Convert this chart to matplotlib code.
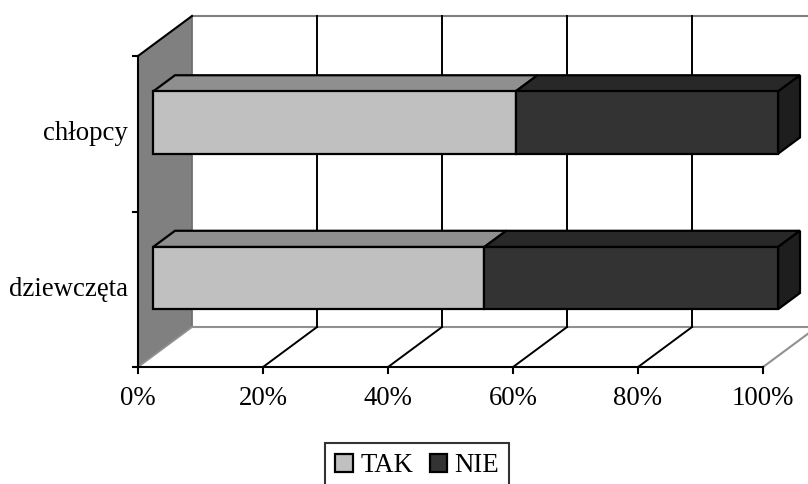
import numpy as np
import matplotlib
matplotlib.use('Agg')
import matplotlib.pyplot as plt
from matplotlib.patches import Polygon, Patch

categories = ['dziewczęta', 'chłopcy']
series_names = ['TAK', 'NIE']
tak = [53, 58]
nie = [47, 42]
x_ticks = [0, 20, 40, 60, 80, 100]
x_tick_labels = ['0%', '20%', '40%', '60%', '80%', '100%']

front_colors = ['#c0c0c0', '#333333']
top_colors = ['#8f8f8f', '#282828']
side_color = '#1e1e1e'

plt.rcParams['font.family'] = ['Liberation Serif', 'DejaVu Serif']
fs = 19.3

fig = plt.figure(figsize=(8.08, 4.84), dpi=100)
ax = fig.add_axes([0, 0, 1, 1])
ax.set_xlim(-22.08, 107.2)
ax.set_ylim(-0.752, 2.360)
ax.axis('off')

# depth offset of the fake 3d box (in data units)
dx, dy = 8.64, 0.2572
f_front, f_back = 0.28, 0.685
h = 0.2
ncat = len(categories)

# left wall
ax.add_patch(Polygon([(0, 0), (0, ncat), (dx, ncat + dy), (dx, dy)],
                     closed=True, fc='#808080', ec='none', zorder=1))
ax.plot([dx, dx], [dy, ncat + dy], color='#707070', lw=1.3, zorder=2)
ax.plot([0, dx], [0, dy], color='#909090', lw=1.3, zorder=2)
ax.plot([0, dx], [ncat, ncat + dy], color='black', lw=1.5, zorder=3)
ax.plot([0, 0], [0, ncat], color='black', lw=1.5, zorder=3)

# back wall top + floor edges
ax.plot([dx, 100 + dx + 5], [ncat + dy, ncat + dy], color='#808080', lw=1.5, zorder=2)
ax.plot([dx, 100 + dx], [dy, dy], color='#909090', lw=1.5, zorder=2)
ax.plot([100, 100 + dx], [0, dy], color='#909090', lw=1.5, zorder=2)
ax.plot([0, 100], [0, 0], color='black', lw=1.5, zorder=3)

# gridlines
for t in x_ticks[1:-1]:
    ax.plot([t + dx, t + dx], [dy, ncat + dy], color='black', lw=1.4, zorder=2)
    ax.plot([t, t + dx], [0, dy], color='black', lw=1.4, zorder=2)

# ticks
for t in x_ticks:
    ax.plot([t, t], [0, -0.04], color='black', lw=1.5, zorder=3)
for k in range(ncat + 1):
    ax.plot([0, -0.8], [k, k], color='black', lw=1.5, zorder=3)

# bars
for i, cat in enumerate(categories):
    c = i + 0.5
    left = 0
    segs = [tak[i], nie[i]]
    for j, v in enumerate(segs):
        a, b = left, left + v
        fx, fy = f_front * dx, f_front * dy
        bx, by = f_back * dx, f_back * dy
        front = [(a + fx, c - h + fy), (b + fx, c - h + fy), (b + fx, c + h + fy), (a + fx, c + h + fy)]
        top = [(a + fx, c + h + fy), (b + fx, c + h + fy), (b + bx, c + h + by), (a + bx, c + h + by)]
        ax.add_patch(Polygon(top, closed=True, fc=top_colors[j], ec='black', lw=1.6, zorder=4))
        ax.add_patch(Polygon(front, closed=True, fc=front_colors[j], ec='black', lw=1.6, zorder=5))
        if j == len(segs) - 1:
            side = [(b + fx, c - h + fy), (b + fx, c + h + fy), (b + bx, c + h + by), (b + bx, c - h + by)]
            ax.add_patch(Polygon(side, closed=True, fc=side_color, ec='black', lw=1.6, zorder=4))
        left = b
    ax.text(-1.6, c, cat, ha='right', va='center', fontsize=fs, zorder=6)

for t, lab in zip(x_ticks, x_tick_labels):
    ax.text(t, -0.2, lab, ha='center', va='center', fontsize=fs)

handles = [Patch(fc=front_colors[j], ec='black', lw=1.6) for j in range(2)]
leg = ax.legend(handles, series_names, loc='upper left', bbox_to_anchor=(0.4022, 0.0847),
                ncol=2, fontsize=fs, frameon=True, fancybox=False, edgecolor='black',
                handlelength=0.65, handleheight=0.65, handletextpad=0.28, columnspacing=0.62,
                borderpad=0.38, borderaxespad=0)
leg.get_frame().set_linewidth(1.5)

plt.savefig('out.png', dpi=100)
